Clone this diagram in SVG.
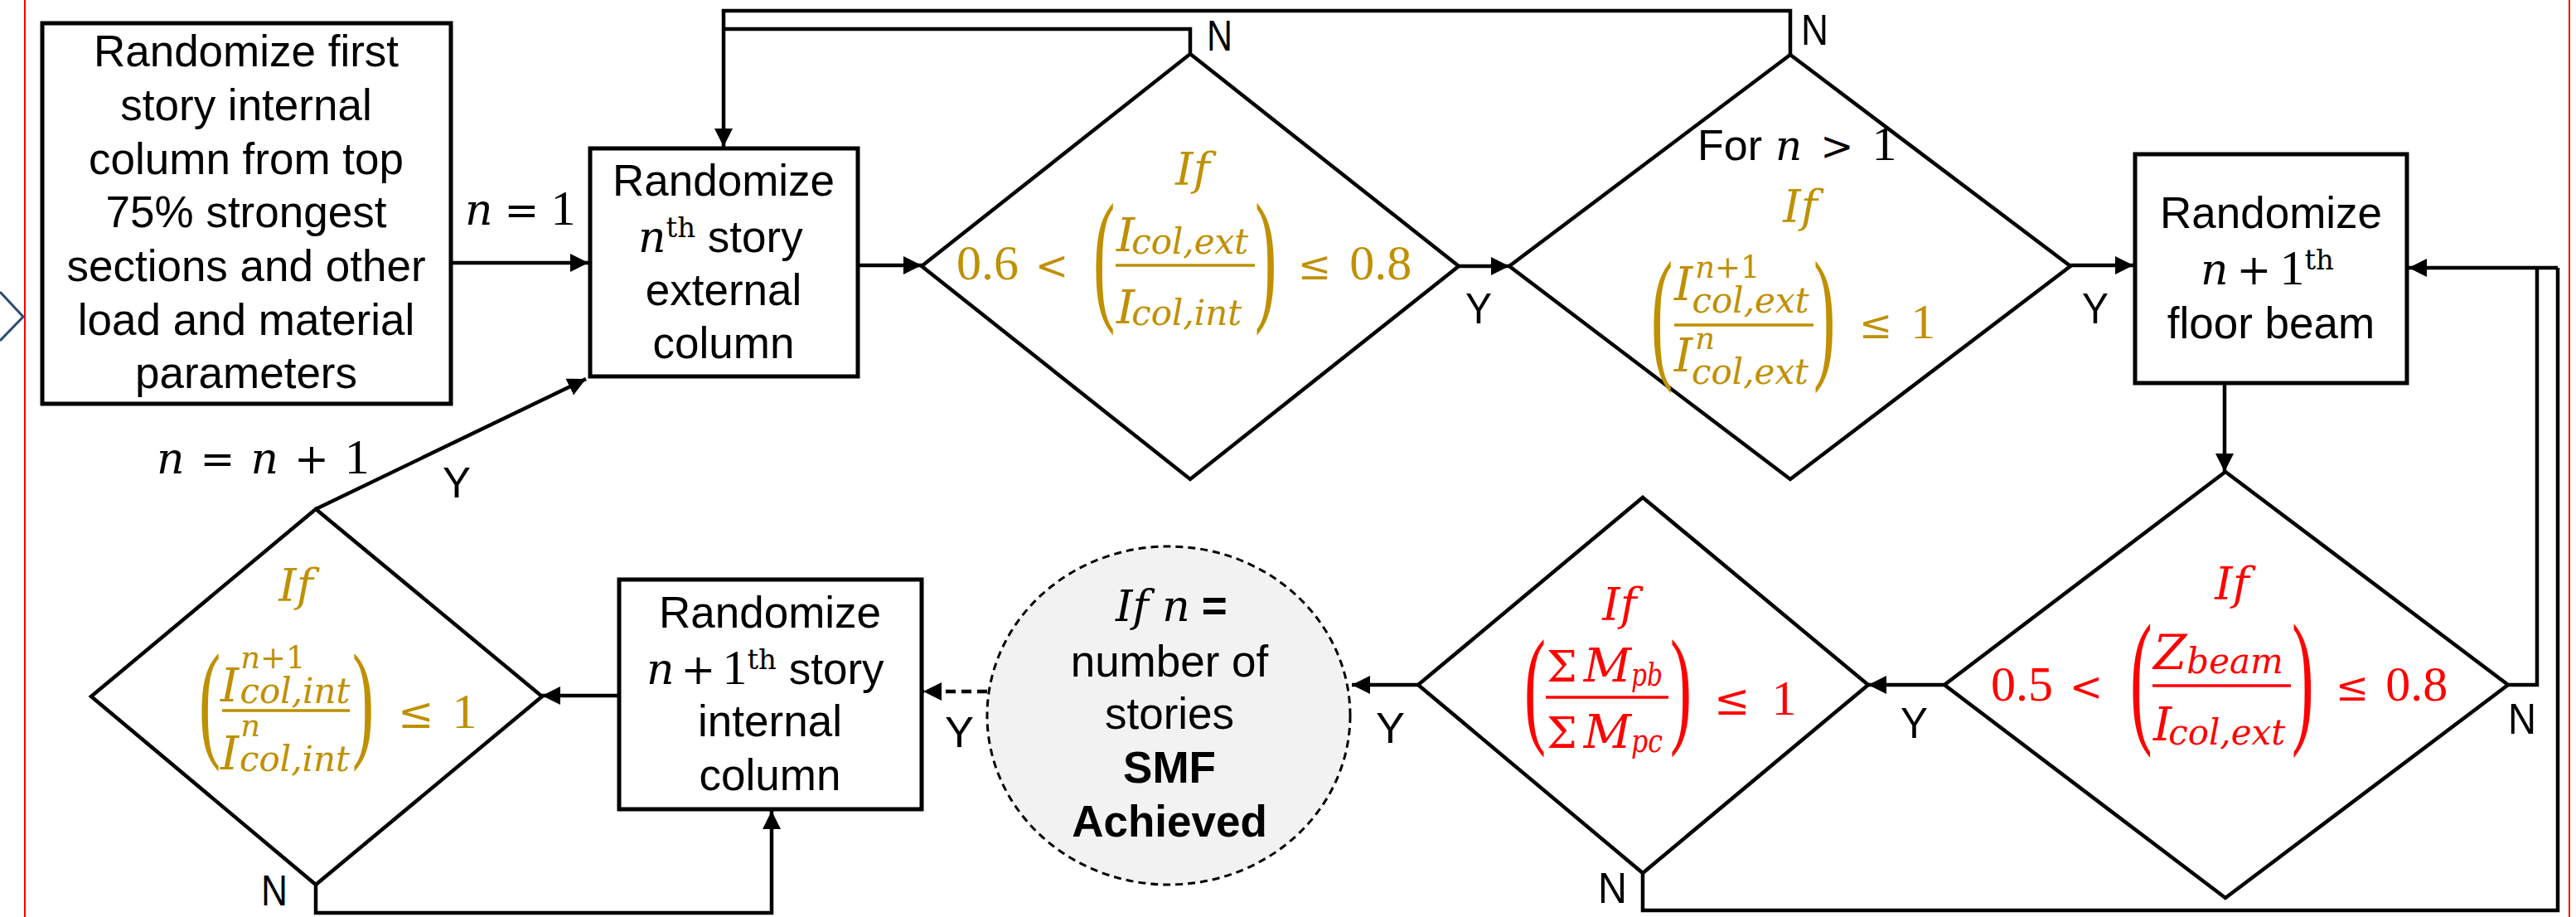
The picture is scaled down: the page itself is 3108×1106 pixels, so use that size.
<svg xmlns="http://www.w3.org/2000/svg" width="3108" height="1106" viewBox="0 0 3108 1106">
<defs>
<marker id="ah" markerUnits="userSpaceOnUse" markerWidth="24" markerHeight="24" refX="22" refY="11" orient="auto">
<path d="M0,0 L22,11 L0,22 z" fill="#000"/>
</marker>
<style>
.box{fill:#fff;stroke:#000;stroke-width:5}
.dia{fill:#fff;stroke:#000;stroke-width:4.5;stroke-linejoin:miter}
.con{fill:none;stroke:#000;stroke-width:4.5}
.txt{font-family:"Liberation Sans",Arial,sans-serif;font-size:53px;text-anchor:middle;fill:#000}
.txs{font-family:"Liberation Sans",Arial,sans-serif;font-size:53px;fill:#000}
.lbl{font-family:"Liberation Sans",Arial,sans-serif;font-size:52px;fill:#000}
.mi{font-family:"DejaVu Serif",serif;font-style:italic}
.mo{font-family:"DejaVu Serif",serif;font-style:normal}
.mn{font-family:"Liberation Serif","Times New Roman",serif;font-size:60px;font-style:normal}
.pr{font-family:"Liberation Serif","Times New Roman",serif}
.gold{fill:#BF9000}
.red{fill:#FF0000}
.gbar{stroke:#BF9000;stroke-width:3.5}
.rbar{stroke:#FF0000;stroke-width:3.5}
</style>
</defs>
<rect width="3108" height="1106" fill="#fff"/>
<line x1="30" y1="0" x2="30" y2="1106" stroke="#FF0000" stroke-width="2"/>
<line x1="3100" y1="0" x2="3100" y2="1106" stroke="#FF0000" stroke-width="2"/>
<polyline points="0,352 28,382 0,411" fill="none" stroke="#2E4A75" stroke-width="3"/>

<g id="connectors">
<line class="con" x1="546" y1="317" x2="710" y2="317" marker-end="url(#ah)"/>
<line class="con" x1="1037" y1="320" x2="1112" y2="320" marker-end="url(#ah)"/>
<line class="con" x1="1760" y1="321" x2="1821" y2="321" marker-end="url(#ah)"/>
<line class="con" x1="2498" y1="320" x2="2574" y2="320" marker-end="url(#ah)"/>
<polyline class="con" points="1436,65 1436,35 873,35"/>
<polyline class="con" points="2160,66 2160,13 873,13 873,177" marker-end="url(#ah)"/>
<line class="con" x1="2684" y1="464" x2="2684" y2="569" marker-end="url(#ah)"/>
<polyline class="con" points="1982,1053 1982,1098 3086,1098 3086,323"/>
<polyline class="con" points="3026,826 3061,826 3061,323"/>
<polyline class="con" points="3086,323 2906,323" marker-end="url(#ah)"/>
<line class="con" x1="2346" y1="826" x2="2254" y2="826" marker-end="url(#ah)"/>
<line class="con" x1="1711" y1="826" x2="1631" y2="826" marker-end="url(#ah)"/>
<line class="con" x1="1191" y1="834" x2="1114" y2="834" stroke-dasharray="12,7" marker-end="url(#ah)"/>
<line class="con" x1="745" y1="839" x2="654" y2="839" marker-end="url(#ah)"/>
<polyline class="con" points="381,1067 381,1101 931,1101 931,978" marker-end="url(#ah)"/>
<line class="con" x1="381" y1="614" x2="707" y2="457" marker-end="url(#ah)"/>
</g>

<g id="edge-labels">
<text x="561" y="271"><tspan class="mi" font-size="52">n</tspan><tspan class="mo" font-size="50" dx="14">=</tspan><tspan class="mn" dx="14">1</tspan></text>
<text x="189" y="571"><tspan class="mi" font-size="52">n</tspan><tspan class="mo" font-size="50" dx="19">=</tspan><tspan class="mi" font-size="52" dx="19">n</tspan><tspan class="mo" font-size="50" dx="19">+</tspan><tspan class="mn" dx="19">1</tspan></text>
<text class="lbl" x="1456" y="61" textLength="31" lengthAdjust="spacingAndGlyphs">N</text>
<text class="lbl" x="2173" y="54" textLength="33" lengthAdjust="spacingAndGlyphs">N</text>
<text class="lbl" x="1768" y="390" textLength="32" lengthAdjust="spacingAndGlyphs">Y</text>
<text class="lbl" x="2512" y="390" textLength="32" lengthAdjust="spacingAndGlyphs">Y</text>
<text class="lbl" x="3026" y="885" textLength="34" lengthAdjust="spacingAndGlyphs">N</text>
<text class="lbl" x="2293" y="890" textLength="33" lengthAdjust="spacingAndGlyphs">Y</text>
<text class="lbl" x="1660" y="896" textLength="35" lengthAdjust="spacingAndGlyphs">Y</text>
<text class="lbl" x="1928" y="1089" textLength="35" lengthAdjust="spacingAndGlyphs">N</text>
<text class="lbl" x="1140" y="901" textLength="35" lengthAdjust="spacingAndGlyphs">Y</text>
<text class="lbl" x="315" y="1092" textLength="32" lengthAdjust="spacingAndGlyphs">N</text>
<text class="lbl" x="534" y="600" textLength="34" lengthAdjust="spacingAndGlyphs">Y</text>
</g>

<g id="box1">
<rect class="box" x="51" y="28" width="493" height="459"/>
<text class="txt" x="297" y="80">Randomize first</text>
<text class="txt" x="297" y="145">story internal</text>
<text class="txt" x="297" y="210">column from top</text>
<text class="txt" x="297" y="274">75% strongest</text>
<text class="txt" x="297" y="339">sections and other</text>
<text class="txt" x="297" y="404">load and material</text>
<text class="txt" x="297" y="468">parameters</text>
</g>

<g id="box2">
<rect class="box" x="712" y="179" width="323" height="275"/>
<text class="txt" x="873" y="236">Randomize</text>
<text class="txs" x="770" y="304"><tspan class="mi" font-size="52">n</tspan><tspan class="mo" font-size="34" dy="-18">th</tspan><tspan dy="18"> story</tspan></text>
<text class="txt" x="873" y="368">external</text>
<text class="txt" x="873" y="432">column</text>
</g>

<g id="decision1">
<polygon class="dia" points="1436,65 1760,321 1436,578 1112,321"/>
<text class="mi gold" font-size="54" x="1439" y="223" text-anchor="middle">If</text>
<text class="gold" x="1154" y="337"><tspan class="mn">0.6</tspan><tspan class="mo" font-size="48" dx="20">&lt;</tspan></text>
<text class="pr gold" font-size="176" transform="translate(1319,367) scale(0.45,1)">(</text>
<text class="mi gold" x="1347" y="303"><tspan font-size="56">I</tspan><tspan font-size="42" dx="-4" dy="3">col,ext</tspan></text>
<line class="gbar" x1="1346" y1="320" x2="1514" y2="320"/>
<text class="mi gold" x="1347" y="390"><tspan font-size="56">I</tspan><tspan font-size="42" dx="-4" dy="2">col,int</tspan></text>
<text class="pr gold" font-size="176" transform="translate(1514,367) scale(0.45,1)">)</text>
<text class="gold" x="1566" y="337"><tspan class="mo" font-size="48">≤</tspan><tspan class="mn" dx="22">0.8</tspan></text>
</g>

<g id="decision2">
<polygon class="dia" points="2160,66 2498,321 2160,578 1821,321"/>
<text x="2048" y="193"><tspan class="lbl" font-size="50">For</tspan><tspan class="mi" font-size="50" dx="16">n</tspan><tspan class="mo" font-size="48" dx="22">&gt;</tspan><tspan class="mn" font-size="58" dx="22">1</tspan></text>
<text class="mi gold" font-size="54" x="2172" y="268" text-anchor="middle">If</text>
<text class="pr gold" font-size="176" transform="translate(1992,437) scale(0.45,1)">(</text>
<text class="mi gold" x="2020" y="362"><tspan font-size="56">I</tspan><tspan font-size="37" dx="3" dy="-27">n</tspan><tspan class="mo" font-size="37">+1</tspan><tspan font-size="42" dx="-82" dy="42">col,ext</tspan></text>
<line class="gbar" x1="2020" y1="392" x2="2188" y2="392"/>
<text class="mi gold" x="2020" y="448"><tspan font-size="56">I</tspan><tspan font-size="37" dx="3" dy="-27">n</tspan><tspan font-size="42" dx="-28" dy="42">col,ext</tspan></text>
<text class="pr gold" font-size="176" transform="translate(2188,437) scale(0.45,1)">)</text>
<text class="gold" x="2243" y="408"><tspan class="mo" font-size="48">≤</tspan><tspan class="mn" dx="22">1</tspan></text>
</g>

<g id="box3">
<rect class="box" x="2576" y="186" width="328" height="276"/>
<text class="txt" x="2740" y="275">Randomize</text>
<text class="txs" x="2655" y="343"><tspan class="mi" font-size="52">n</tspan><tspan class="mo" font-size="50" dx="10">+</tspan><tspan class="mn" dx="10">1</tspan><tspan class="mo" font-size="34" dy="-18">th</tspan></text>
<text class="txt" x="2740" y="408">floor beam</text>
</g>

<g id="decision3">
<polygon class="dia" points="2685,569 3026,826 2685,1083 2346,826"/>
<text class="mi red" font-size="54" x="2693" y="723" text-anchor="middle">If</text>
<text class="red" x="2402" y="845"><tspan class="mn">0.5</tspan><tspan class="mo" font-size="48" dx="20">&lt;</tspan></text>
<text class="pr red" font-size="178" transform="translate(2570,876) scale(0.45,1)">(</text>
<text class="mi red" x="2598" y="807"><tspan font-size="58">Z</tspan><tspan font-size="42" dy="5">beam</tspan></text>
<line class="rbar" x1="2597" y1="827" x2="2764" y2="827"/>
<text class="mi red" x="2598" y="893"><tspan font-size="56">I</tspan><tspan font-size="42" dx="-4" dy="5">col,ext</tspan></text>
<text class="pr red" font-size="178" transform="translate(2765,876) scale(0.45,1)">)</text>
<text class="red" x="2818" y="845"><tspan class="mo" font-size="48">≤</tspan><tspan class="mn" dx="20">0.8</tspan></text>
</g>

<g id="decision4">
<polygon class="dia" points="1982,600 2254,826 1982,1053 1711,826"/>
<text class="mi red" font-size="54" x="1954" y="748" text-anchor="middle">If</text>
<text class="pr red" font-size="156" transform="translate(1839,880) scale(0.5,1)">(</text>
<text class="red" x="1866" y="822"><tspan class="mo" font-size="52">Σ</tspan><tspan class="mi" font-size="56" dx="8">M</tspan><tspan class="mi" font-size="40" dy="5" textLength="38" lengthAdjust="spacingAndGlyphs">pb</tspan></text>
<line class="rbar" x1="1865" y1="841" x2="2013" y2="841"/>
<text class="red" x="1866" y="902"><tspan class="mo" font-size="52">Σ</tspan><tspan class="mi" font-size="56" dx="8">M</tspan><tspan class="mi" font-size="40" dy="5" textLength="38" lengthAdjust="spacingAndGlyphs">pc</tspan></text>
<text class="pr red" font-size="156" transform="translate(2015,880) scale(0.5,1)">)</text>
<text class="red" x="2068" y="862"><tspan class="mo" font-size="52">≤</tspan><tspan class="mn" dx="26">1</tspan></text>
</g>

<g id="end-check">
<ellipse cx="1410" cy="863" rx="219" ry="204" fill="#F2F2F2" stroke="#000" stroke-width="3" stroke-dasharray="9,6"/>
<text class="txs" x="1346" y="749"><tspan class="mi" font-size="52">If n</tspan><tspan font-weight="bold" dx="14">=</tspan></text>
<text class="txt" x="1411" y="816">number of</text>
<text class="txt" x="1411" y="879">stories</text>
<text class="txt" x="1411" y="944" font-weight="bold">SMF</text>
<text class="txt" x="1411" y="1009" font-weight="bold">Achieved</text>
</g>

<g id="box4">
<rect class="box" x="747" y="699" width="365" height="277"/>
<text class="txt" x="929" y="757">Randomize</text>
<text class="txs" x="780" y="825"><tspan class="mi" font-size="52">n</tspan><tspan class="mo" font-size="50" dx="8">+</tspan><tspan class="mn" dx="8">1</tspan><tspan class="mo" font-size="34" dy="-18">th</tspan><tspan dy="18"> story</tspan></text>
<text class="txt" x="929" y="888">internal</text>
<text class="txt" x="929" y="953">column</text>
</g>

<g id="decision5">
<polygon class="dia" points="381,614 654,840 381,1067 110,840"/>
<text class="mi gold" font-size="54" x="357" y="725" text-anchor="middle">If</text>
<text class="pr gold" font-size="157" transform="translate(240,897) scale(0.5,1)">(</text>
<text class="mi gold" x="266" y="846"><tspan font-size="56">I</tspan><tspan font-size="37" dx="2" dy="-40">n</tspan><tspan class="mo" font-size="37">+1</tspan><tspan font-size="42" dx="-79" dy="42">col,int</tspan></text>
<line class="gbar" x1="268" y1="857" x2="422" y2="857"/>
<text class="mi gold" x="266" y="928"><tspan font-size="56">I</tspan><tspan font-size="37" dx="2" dy="-40">n</tspan><tspan font-size="42" dx="-25" dy="42">col,int</tspan></text>
<text class="pr gold" font-size="157" transform="translate(425,897) scale(0.5,1)">)</text>
<text class="gold" x="480" y="878"><tspan class="mo" font-size="52">≤</tspan><tspan class="mn" dx="22">1</tspan></text>
</g>
</svg>
